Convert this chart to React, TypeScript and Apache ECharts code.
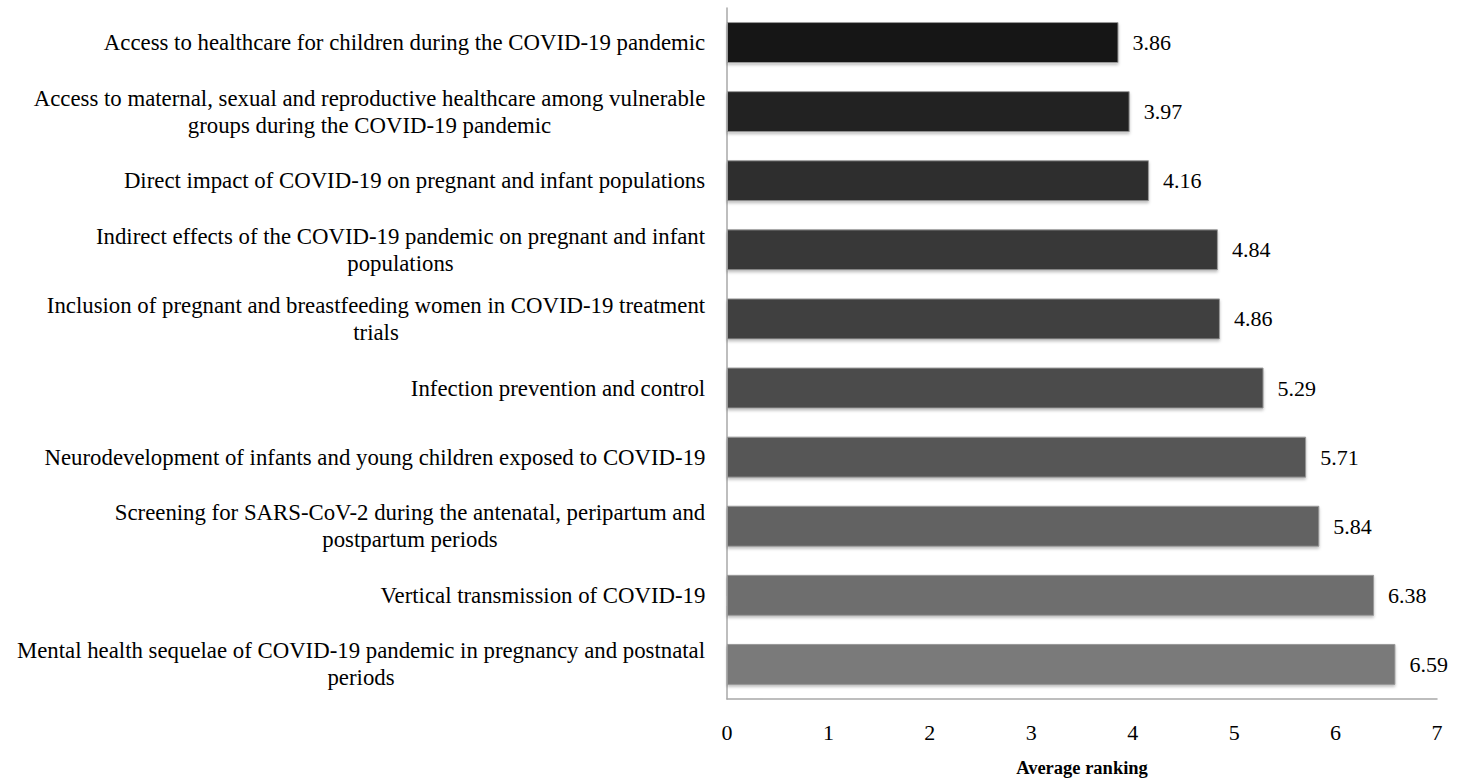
import React, { useEffect, useRef } from "react";
import * as echarts from "echarts";

const categories: string[] = [
  "Access to healthcare for children during the COVID-19 pandemic",
  "Access to maternal, sexual and reproductive healthcare among vulnerable\ngroups during the COVID-19 pandemic",
  "Direct impact of COVID-19 on pregnant and infant populations",
  "Indirect effects of the COVID-19 pandemic on pregnant and infant\npopulations",
  "Inclusion of pregnant and breastfeeding women in COVID-19 treatment\ntrials",
  "Infection prevention and control",
  "Neurodevelopment of infants and young children exposed to COVID-19",
  "Screening for SARS-CoV-2 during the antenatal, peripartum and\npostpartum periods",
  "Vertical transmission of COVID-19",
  "Mental health sequelae of COVID-19 pandemic in pregnancy and postnatal\nperiods",
];

const values: number[] = [3.86, 3.97, 4.16, 4.84, 4.86, 5.29, 5.71, 5.84, 6.38, 6.59];

const barColors: string[] = [
  "#141414", "#222222", "#2e2e2e", "#383838", "#3f3f3f",
  "#4b4b4b", "#565656", "#626262", "#6e6e6e", "#7a7a7a",
];

const xTicks: number[] = [0, 1, 2, 3, 4, 5, 6, 7];

const FONT = "'Liberation Serif', 'Times New Roman', serif";
const FS = 22.8;
const FS2 = 22;

function measure(text: string): number {
  const c = document.createElement("canvas").getContext("2d");
  if (!c) return text.length * FS * 0.45;
  c.font = `${FS}px 'Liberation Serif'`;
  return c.measureText(text).width;
}

export default function App() {
  const ref = useRef<HTMLDivElement>(null);
  useEffect(() => {
    if (!ref.current) return;
    const chart = echarts.init(ref.current, undefined, { renderer: "svg" });
    const rich: Record<string, any> = {};
    categories.forEach((c, i) => {
      const lines = c.split("\n");
      const w = Math.ceil(Math.max(...lines.map(measure))) + 1;
      rich["r" + i] = {
        width: w,
        align: "center",
        fontFamily: FONT,
        fontSize: FS,
        color: "#000",
        lineHeight: 27,
      };
    });
    chart.setOption({
      animation: false,
      backgroundColor: "#fff",
      grid: { left: 727, right: 31, top: 8, bottom: 75, containLabel: false },
      xAxis: {
        type: "value",
        min: xTicks[0],
        max: xTicks[xTicks.length - 1],
        interval: 1,
        name: "Average ranking",
        nameLocation: "middle",
        nameGap: 59,
        nameTextStyle: { fontFamily: FONT, fontSize: 18.5, fontWeight: "bold", color: "#000" },
        axisLine: { show: true, lineStyle: { color: "#a8a8a8", width: 1.5 } },
        axisTick: { show: false },
        splitLine: { show: false },
        axisLabel: { fontFamily: FONT, fontSize: FS2, color: "#000", margin: 22 },
      },
      yAxis: {
        type: "category",
        inverse: true,
        data: categories,
        axisLine: { show: true, lineStyle: { color: "#a8a8a8", width: 1.5 } },
        axisTick: { show: false },
        axisLabel: {
          margin: 21,
          fontFamily: FONT,
          fontSize: FS,
          color: "#000",
          lineHeight: 27,
          rich,
          formatter: (v: string, i: number) =>
            v.split("\n").map((l) => `{r${i}|${l}}`).join("\n"),
        },
      },
      series: [
        {
          type: "bar",
          barWidth: 41,
          data: values.map((v, i) => ({
            value: v,
            itemStyle: {
              color: barColors[i],
              borderColor: "#9a9a9a",
              borderWidth: 1,
              shadowColor: "rgba(0,0,0,0.25)",
              shadowBlur: 3,
              shadowOffsetY: 2,
            },
          })),
          label: {
            show: true,
            position: "right",
            distance: 14,
            fontFamily: FONT,
            fontSize: FS2,
            color: "#000",
            formatter: (p: any) => p.value.toFixed(2),
          },
        },
      ],
    });
    return () => chart.dispose();
  }, []);
  return <div ref={ref} style={{ width: 1468, height: 782, position: "absolute", left: 0, top: 0 }} />;
}
